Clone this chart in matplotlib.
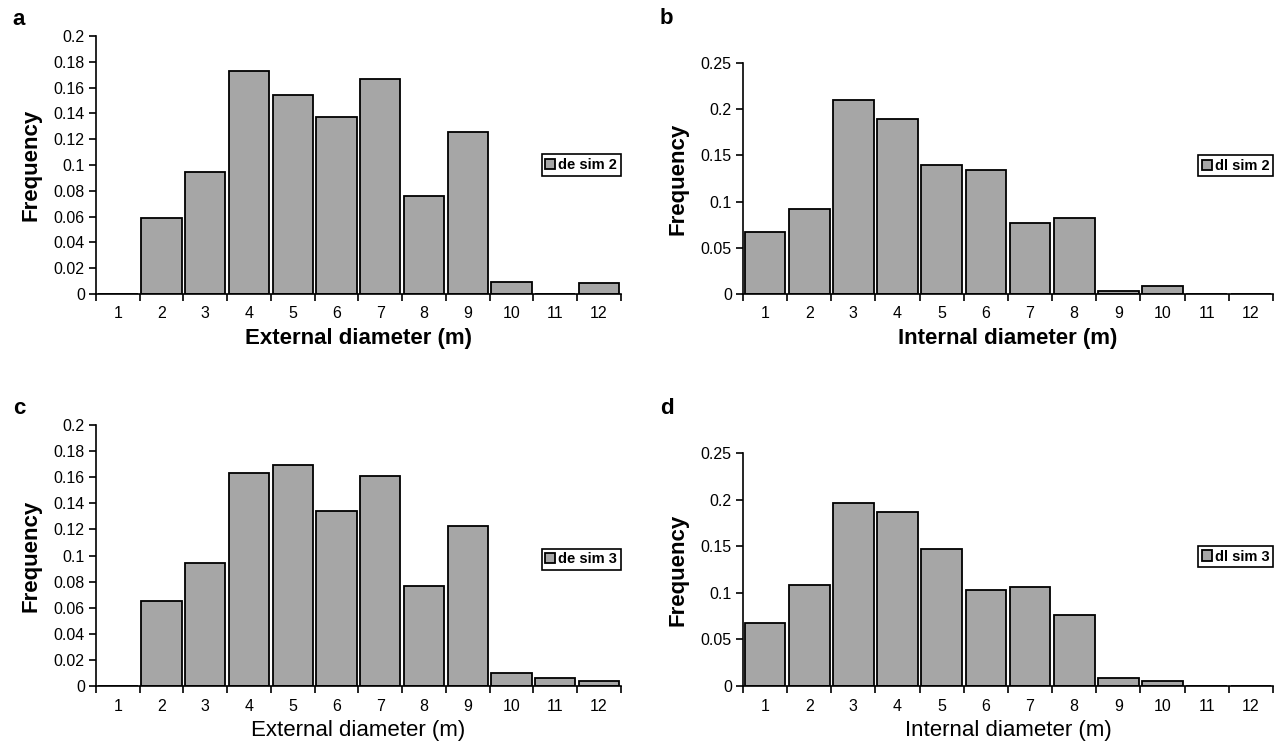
import numpy as np
import matplotlib.pyplot as plt
from matplotlib.ticker import FixedLocator, FuncFormatter

plt.rcParams['font.family'] = ['Liberation Sans', 'DejaVu Sans']

classes = list(range(1, 13))

# frequency per diameter class (m)
de_sim2 = [0, 0.0587, 0.0942, 0.1726, 0.1545, 0.1371, 0.1664, 0.0761, 0.1252, 0.0093, 0, 0.0088]
di_sim2 = [0.0673, 0.0917, 0.2101, 0.1896, 0.1396, 0.1338, 0.0763, 0.0820, 0.0029, 0.0086, 0, 0]
de_sim3 = [0, 0.0649, 0.0939, 0.1635, 0.1690, 0.1340, 0.1607, 0.0766, 0.1224, 0.0096, 0.0060, 0.0036]
di_sim3 = [0.0678, 0.1089, 0.1962, 0.1865, 0.1475, 0.1025, 0.1064, 0.0765, 0.0087, 0.0051, 0, 0]

panels = [
    ('a', de_sim2, 'de sim 2', 'External diameter (m)', 0.2, 0.02, [0.0749, 0.608, 0.4098, 0.344], 0.50, 'bold'),
    ('b', di_sim2, 'dl sim 2', 'Internal diameter (m)', 0.25, 0.05, [0.580, 0.608, 0.4137, 0.308], 0.555, 'bold'),
    ('c', de_sim3, 'de sim 3', 'External diameter (m)', 0.2, 0.02, [0.0749, 0.0853, 0.4098, 0.348], 0.485, 'normal'),
    ('d', di_sim3, 'dl sim 3', 'Internal diameter (m)', 0.25, 0.05, [0.580, 0.0853, 0.4137, 0.3107], 0.555, 'normal'),
]

def fmt(v, pos):
    return '%g' % round(v, 3)

fig = plt.figure(figsize=(12.81, 7.5), dpi=100)

for letter, vals, name, xlab, ymax, ystep, rect, legy, xw in panels:
    ax = fig.add_axes(rect)
    ax.bar(classes, vals, width=0.92, color='#a6a6a6', edgecolor='black',
           linewidth=1.3, label=name)
    ax.set_xlim(0.5, 12.5)
    ax.set_ylim(0, ymax)
    ax.set_yticks(np.arange(0, ymax + ystep / 2, ystep))
    ax.yaxis.set_major_formatter(FuncFormatter(fmt))

    # category ticks sit between the bars, labels at the centres
    ax.xaxis.set_major_locator(FixedLocator(np.arange(0.5, 13, 1)))
    ax.xaxis.set_minor_locator(FixedLocator(classes))
    ax.set_xticklabels([])
    ax.set_xticklabels([str(c) for c in classes], minor=True)
    ax.tick_params(axis='x', which='major', length=5, width=1.2, direction='out')
    ax.tick_params(axis='x', which='minor', length=0, pad=9, labelsize=11.5)
    ax.tick_params(axis='y', length=5, width=1.2, labelsize=11.5, pad=3)

    for side in ['top', 'right']:
        ax.spines[side].set_visible(False)
    for side in ['left', 'bottom']:
        ax.spines[side].set_linewidth(1.2)

    ax.set_ylabel('Frequency', fontsize=16, fontweight='bold', labelpad=9)
    ax.set_xlabel(xlab, fontsize=16, fontweight=xw, labelpad=5)

    leg = ax.legend(loc='center right', bbox_to_anchor=(1.0, legy), frameon=True,
                    fancybox=False, edgecolor='black', framealpha=1,
                    prop={'weight': 'bold', 'size': 10.5}, handlelength=0.7,
                    handleheight=0.7, handletextpad=0.2, borderpad=0.25,
                    borderaxespad=0)
    leg.get_frame().set_linewidth(1.2)

    fig.text(rect[0] - 0.065, rect[1] + rect[3] + (0.008 if letter in 'ac' else 0.045),
             letter, fontsize=16, fontweight='bold', va='bottom', ha='left')

fig.savefig('out.png', dpi=100, facecolor='white')
